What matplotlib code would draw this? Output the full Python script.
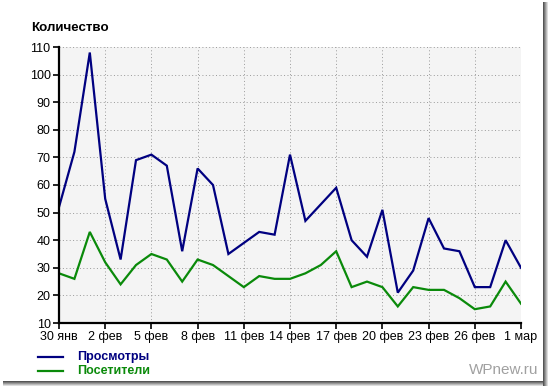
import matplotlib
matplotlib.use("Agg")
import matplotlib.pyplot as plt
from matplotlib.patches import Rectangle

plt.rcParams['font.family'] = ['Liberation Sans', 'DejaVu Sans']

# daily values, 30 Jan .. 1 Mar
days = list(range(31))
views = [52, 72, 108, 55, 33, 69, 71, 67, 36, 66, 60, 35, 39, 43, 42, 71,
         47, 53, 59, 40, 34, 51, 21, 29, 48, 37, 36, 23, 23, 40, 30]
visitors = [28, 26, 43, 32, 24, 31, 35, 33, 25, 33, 31, 27, 23, 27, 26, 26,
            28, 31, 36, 23, 25, 23, 16, 23, 22, 22, 19, 15, 16, 25, 17]
tick_days = list(range(0, 31, 3))
tick_labels = ['30 янв', '2 фев', '5 фев', '8 фев', '11 фев', '14 фев',
               '17 фев', '20 фев', '23 фев', '26 фев', '1 мар']
y_ticks = list(range(10, 111, 10))

W, H = 548, 386
fig = plt.figure(figsize=(W / 100, H / 100), dpi=100)
ax = fig.add_axes([59 / W, 1 - 323 / H, (521 - 59) / W, (323 - 47) / H])
ax.set_facecolor('#f4f4f4')

ax.plot(days, views, color='#000080', lw=1.6, solid_joinstyle='miter')
ax.plot(days, visitors, color='#0a8a0a', lw=1.6, solid_joinstyle='miter')

ax.set_xlim(0, 30)
ax.set_ylim(10, 110)
ax.set_xticks(tick_days)
ax.set_xticklabels(tick_labels)
ax.set_yticks(y_ticks)
ax.grid(True, color='#999999', lw=0.7, linestyle=(0, (1, 2.5)))
ax.set_axisbelow(True)
for s in ('top', 'right'):
    ax.spines[s].set_visible(False)
for s in ('left', 'bottom'):
    ax.spines[s].set_linewidth(1.6)
ax.tick_params(axis='both', labelsize=9, length=4, width=1.2, pad=2, colors='black')

fig.text(31 / W, 1 - 28 / H, 'Количество', fontsize=9.6, fontweight='bold', va='center', ha='left')

# legend
fig.add_artist(plt.Line2D([38 / W, 63 / W], [1 - 357 / H] * 2, color='#000080', lw=1.6))
fig.add_artist(plt.Line2D([38 / W, 63 / W], [1 - 371 / H] * 2, color='#0a8a0a', lw=1.6))
fig.text(77 / W, 1 - 357 / H, 'Просмотры', color='#000080', fontsize=9, fontweight='bold', va='center')
fig.text(77 / W, 1 - 371 / H, 'Посетители', color='#0a8a0a', fontsize=9, fontweight='bold', va='center')
fig.text(538 / W, 1 - 370 / H, 'WPnew.ru', color='#a0a0a0', fontsize=11, ha='right', va='center')

# frame shadow
for i, g in enumerate(['#555555', '#777777', '#999999', '#bbbbbb', '#dddddd']):
    fig.add_artist(Rectangle(((543 + i) / W, 0), 1 / W, 1 - 2 / H, transform=fig.transFigure,
                             color=g, lw=0))
    fig.add_artist(Rectangle((3 / W, (5 - i - 1) / H), (543 - 3) / W, 1 / H, transform=fig.transFigure,
                             color=g, lw=0))

fig.savefig('out.png', dpi=100)
